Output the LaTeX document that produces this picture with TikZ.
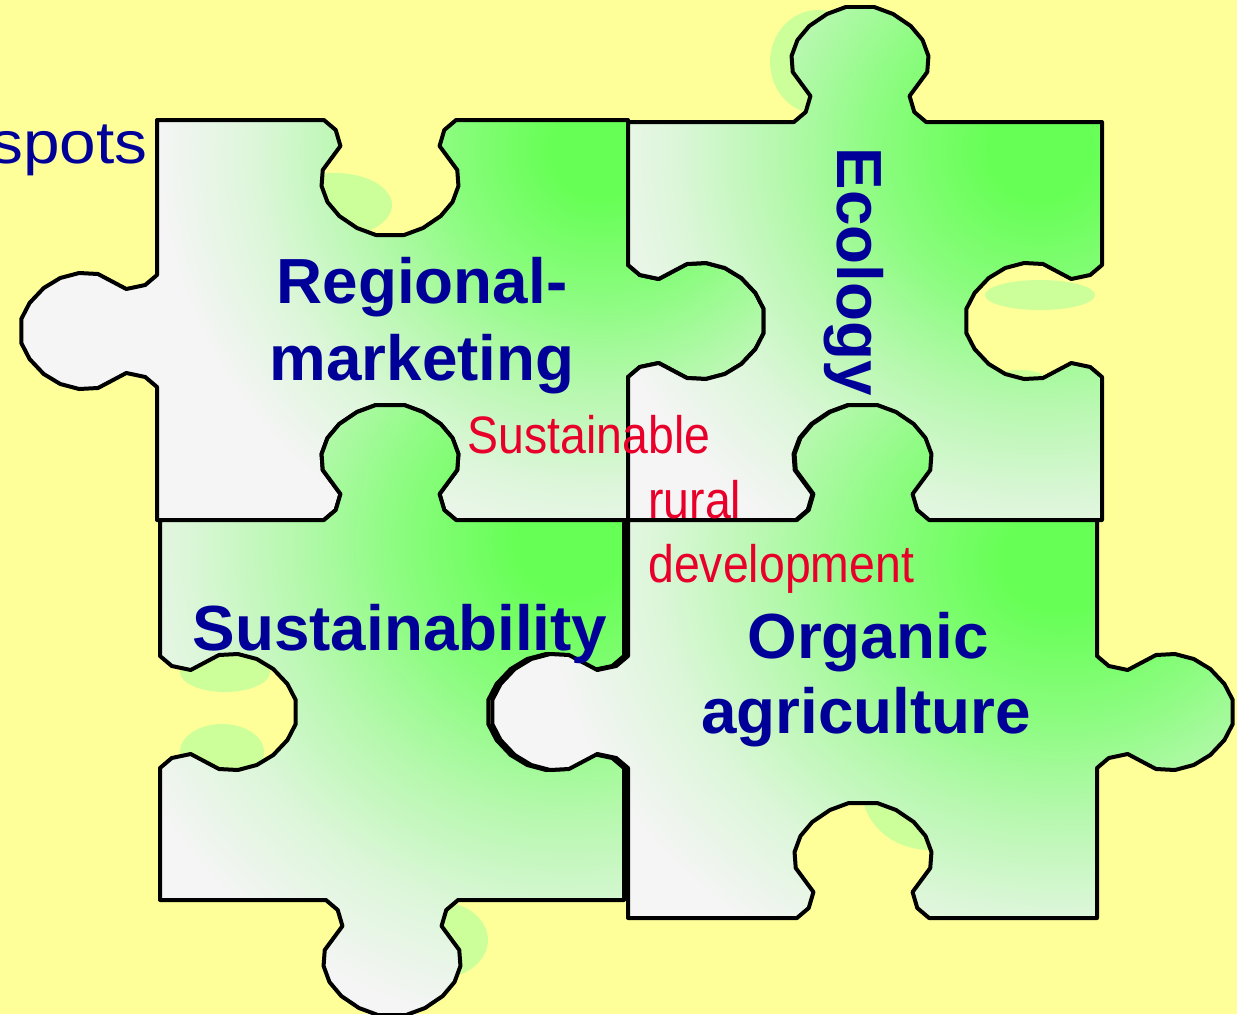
\documentclass[tikz,border=0pt]{standalone}
\usepackage{fontspec}
\setmainfont{Liberation Sans}
\newfontfamily\narrowfont{Liberation Sans}[FakeStretch=0.88]
\newfontfamily\widefont{Liberation Sans}[FakeStretch=1.1]

\definecolor{bgyellow}{HTML}{FFFF99}
\definecolor{blobgreen}{HTML}{CCFF99}
\definecolor{pzgreen}{HTML}{66FF55}
\definecolor{pzbright}{HTML}{8CFC80}
\definecolor{pzmid}{HTML}{B8F8B0}
\definecolor{pzpale}{HTML}{DDF6DA}
\definecolor{pzwhite}{HTML}{F5F5F5}
\definecolor{labelblue}{HTML}{000099}
\definecolor{labelred}{HTML}{E8002B}

\pgfdeclareradialshading{pzglow}{\pgfpoint{0bp}{0bp}}{color(0bp)=(pzgreen); color(2.7bp)=(pzgreen);
	color(8.8bp)=(pzbright); color(14.2bp)=(pzmid); color(19.6bp)=(pzpale); color(25bp)=(pzwhite); color(50bp)=(pzwhite)}

% tab (#4=1) or blank (#4=-1) centred at (#1,#2) on an edge running at angle #3
\newcommand\knob[4]{%
	\foreach \t/\h in {-56/0,-46/10,-42/26,-57/50,-58/66,-53/82,-43/96,-28/108,-12/115,
		12/115,28/108,43/96,53/82,58/66,57/50,42/26,46/10,56/0}
		{ -- ([knobframe={#1}{#2}{#3}{#4}]\t,\h) }}

% the four outlines
\newcommand\pieceone{(157,-120) \knob{390}{-120}{0}{-1} -- (628,-120) \knob{628}{-321}{-90}{1}
	-- (628,-520) \knob{390}{-520}{180}{-1} -- (157,-520) \knob{157}{-331}{90}{1} -- cycle}
\newcommand\piecetwo{(628,-122) \knob{860}{-122}{0}{1} -- (1102,-122) \knob{1102}{-321}{-90}{-1}
	-- (1102,-520) \knob{862}{-520}{180}{-1} -- (628,-520) \knob{628}{-321}{90}{-1} -- cycle}
\newcommand\piecethree{(160,-520) \knob{390}{-520}{0}{1} -- (624,-520) \knob{624}{-712}{-90}{-1}
	-- (624,-900) \knob{392}{-900}{180}{1} -- (160,-900) \knob{160}{-712}{90}{-1} -- cycle}
\newcommand\piecefour{(628,-520) \knob{863}{-520}{0}{1} -- (1097,-520) \knob{1097}{-712}{-90}{1}
	-- (1097,-918) \knob{863}{-918}{180}{-1} -- (628,-918) \knob{628}{-712}{90}{1} -- cycle}

\begin{document}
\begin{tikzpicture}[x=0.02cm, y=0.02cm,
		piece/.style={draw=black, line width=0.08cm, line join=round},
		knobframe/.style n args={4}{shift={(#1,#2)}, xscale=1.18, rotate=#3, yscale=#4},
		blob/.style={fill=blobgreen},
		glow/.style={shading=pzglow},
		bluelabel/.style={anchor=base, inner sep=0pt, text=labelblue, font=\fontsize{36.3}{40}\selectfont\bfseries},
		redlabel/.style={anchor=base, inner sep=0pt, text=labelred, font=\narrowfont\fontsize{30}{34}\selectfont}]
		\useasboundingbox (0,0) rectangle (1237,-1014);
		\fill [bgyellow] (0,0) rectangle (1237,-1014);
		
		% Shadows
			\fill [blob] (335,-205) ellipse (57 and 32);
			\fill [blob] (818,-62) ellipse (48 and 52);
			\fill [blob] (1040,-295) ellipse (55 and 15);
			\fill [blob] (1020,-378) ellipse (25 and 8);
			\fill [blob] (225,-672) ellipse (45 and 20);
			\fill [blob] (222,-752) ellipse (42 and 28);
			\fill [blob] (440,-940) ellipse (48 and 38);
			\fill [blob] (930,-790) ellipse (68 and 60);
		
		% Pieces
			\fill [pzwhite] \pieceone;
			\begin{scope}
				\clip \pieceone;
				\shade [glow] (157,280) rectangle (1043,-580);
			\end{scope}
			\draw [piece] \pieceone;
			
			\fill [pzwhite] \piecetwo;
			\begin{scope}
				\clip \piecetwo;
				\shade [glow] (571,305) rectangle (1509,-605);
			\end{scope}
			\draw [piece] \piecetwo;
			
			\fill [pzwhite] \piecethree;
			\begin{scope}
				\clip \piecethree;
				\shade [glow] (75,-45) rectangle (1065,-1035);
			\end{scope}
			\draw [piece] \piecethree;
			
			\fill [pzwhite] \piecefour;
			\begin{scope}
				\clip \piecefour;
				\shade [glow] (539,-104) rectangle (1581,-1016);
			\end{scope}
			\draw [piece] \piecefour;
		
		% Labels
			\node [anchor=base east, inner sep=0pt, text=labelblue, font=\widefont\fontsize{34}{38}\selectfont] (spots) at (148,-163) {spots};
			\node [bluelabel] (regional) at (422,-303) {Regional-};
			\node [bluelabel] (marketing) at (422,-380) {marketing};
			\node [bluelabel, rotate=-90] (ecology) at (837,-272) {Ecology};
			\node [bluelabel] (sustainability) at (400,-650) {Sustainability};
			\node [bluelabel] (organic) at (868,-658) {Organic};
			\node [bluelabel] (agriculture) at (866,-733) {agriculture};
			\node [redlabel] (sustainable) at (589,-453) {Sustainable};
			\node [redlabel, anchor=base west] (rural) at (648,-518) {rural};
			\node [redlabel, anchor=base west] (development) at (648,-582) {development};
		
		\end{tikzpicture}
\end{document}
